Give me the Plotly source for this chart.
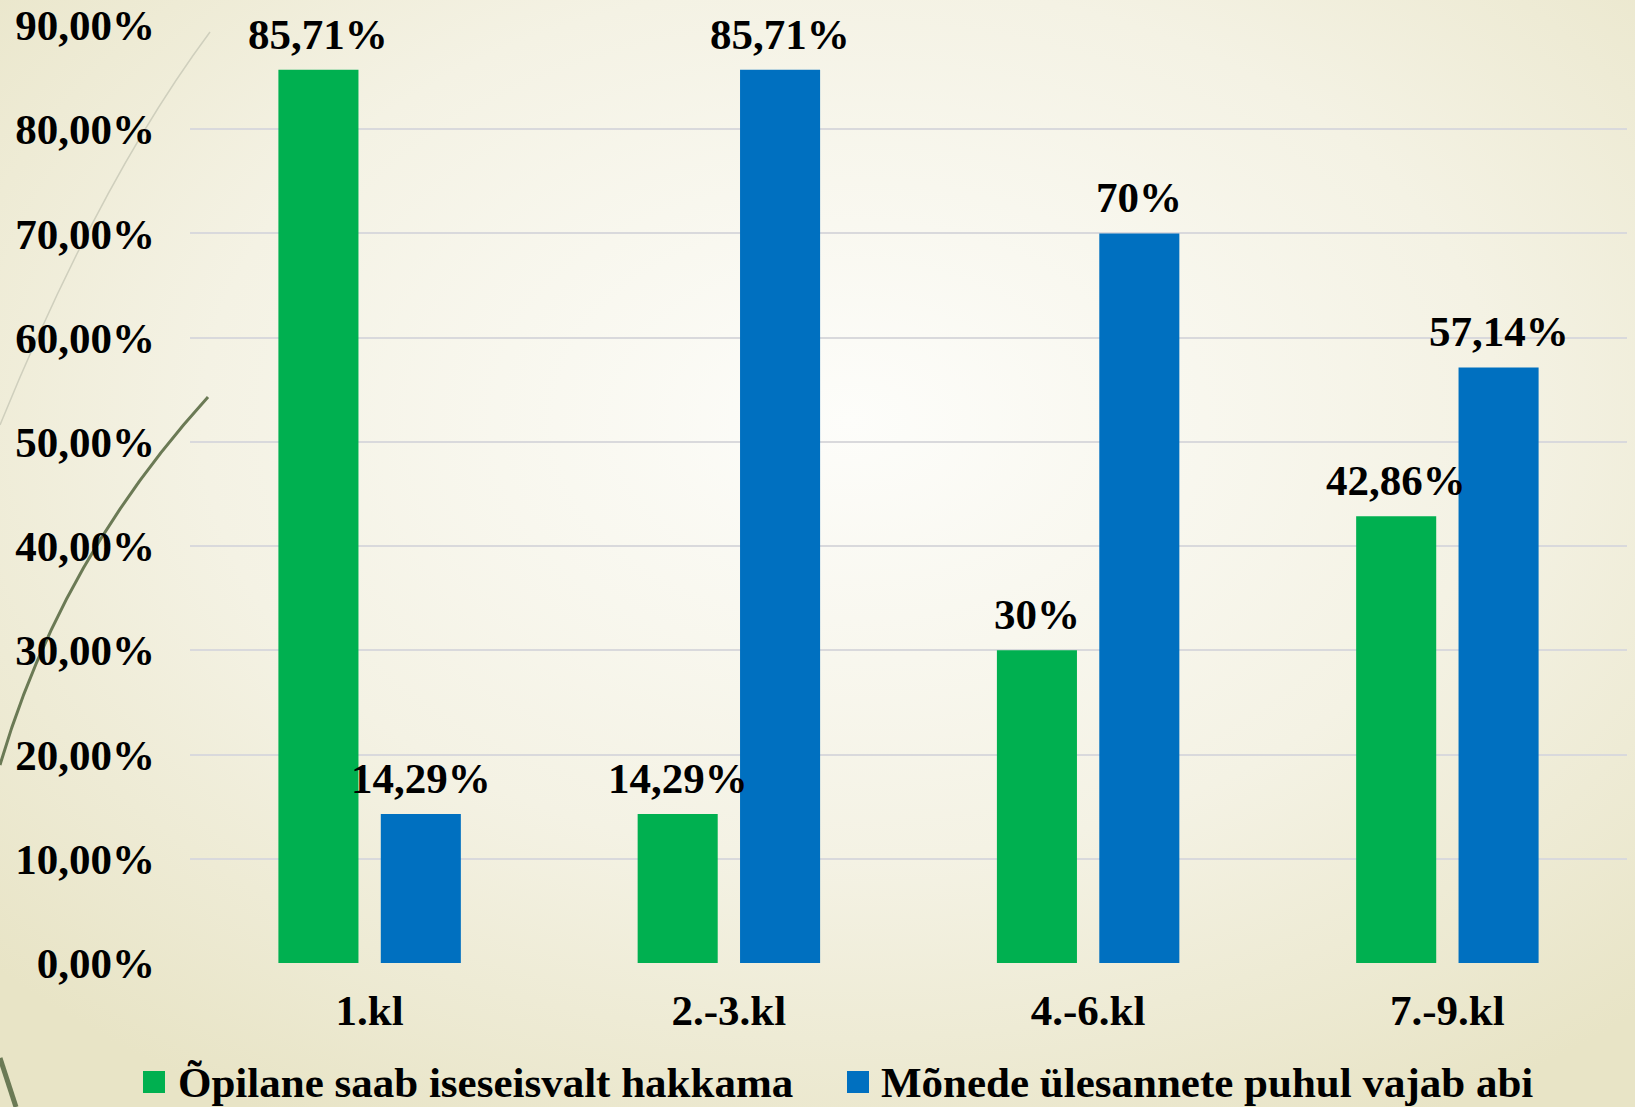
import base64
import plotly.graph_objects as go

# --- data ---
categories = ["1.kl", "2.-3.kl", "4.-6.kl", "7.-9.kl"]
series_names = ["Õpilane saab iseseisvalt hakkama", "Mõnede ülesannete puhul vajab abi"]
independent = [0.8571, 0.1429, 0.30, 0.4286]
needs_help = [0.1429, 0.8571, 0.70, 0.5714]
y_ticks = [0.0, 0.1, 0.2, 0.3, 0.4, 0.5, 0.6, 0.7, 0.8, 0.9]

GREEN = "#00B050"
BLUE = "#0070C0"
FONT = "Liberation Serif"
FS = 43

W, H = 1635, 1107
ML, MR, MT, MB = 190, 8, 25, 144
PW, PH = W - ML - MR, H - MT - MB

BARGAP = 0.43
BARGROUPGAP = 0.218


def pct_label(v):
    p = round(v * 100, 2)
    if abs(p - round(p)) < 1e-9:
        return f"{int(round(p))}%"
    return f"{p:.2f}".replace(".", ",") + "%"


# background: soft radial gradient plus the decorative curves on the left
bg_svg = f"""<svg xmlns='http://www.w3.org/2000/svg' width='{W}' height='{H}' viewBox='0 0 {W} {H}'>
<defs><radialGradient id='g' cx='0.52' cy='0.38' r='0.72'>
<stop offset='0' stop-color='#fdfdfa'/>
<stop offset='0.55' stop-color='#f4f2e4'/>
<stop offset='1' stop-color='#e8e4c6'/>
</radialGradient></defs>
<rect width='{W}' height='{H}' fill='url(#g)'/>
<path d='M 210 32 Q 100 180 0 425' stroke='#cfcfbd' stroke-width='1.5' fill='none'/>
<path d='M 208 397 Q 60 560 0 765' stroke='#6b7a55' stroke-width='3' fill='none'/>
<path d='M 0 1058 L 16 1107' stroke='#6b7a55' stroke-width='5' fill='none'/>
</svg>"""
bg_uri = "data:image/svg+xml;base64," + base64.b64encode(bg_svg.encode("utf-8")).decode("ascii")

fig = go.Figure()
for name, vals, color in [(series_names[0], independent, GREEN), (series_names[1], needs_help, BLUE)]:
    fig.add_trace(go.Bar(
        x=categories, y=vals, name=name,
        marker=dict(color=color, line=dict(width=0)),
        showlegend=False,
    ))

# data labels above each bar
slot = (1 - BARGAP) / 2
for j, vals in enumerate([independent, needs_help]):
    off = (j - 0.5) * slot
    for i, v in enumerate(vals):
        fig.add_annotation(
            x=i + off, y=v, xref="x", yref="y",
            text=pct_label(v), showarrow=False,
            xanchor="center", yanchor="bottom", yshift=10,
            font=dict(family=FONT, size=FS, color="black", weight="bold"),
        )

# legend drawn by hand so the swatches can be large
legend_y = -(1082 - (MT + PH)) / PH
sw = 22
legend_items = [(series_names[0], GREEN, 143, 176), (series_names[1], BLUE, 847, 879)]
for name, color, sx, tx in legend_items:
    x0 = (sx - ML) / PW
    x1 = (sx + sw - ML) / PW
    fig.add_shape(type="rect", xref="paper", yref="paper",
                  x0=x0, x1=x1, y0=legend_y - (sw / 2) / PH, y1=legend_y + (sw / 2) / PH,
                  fillcolor=color, line=dict(width=0))
    fig.add_annotation(
        x=(tx - ML) / PW, y=legend_y, xref="paper", yref="paper",
        text=name, showarrow=False, xanchor="left", yanchor="middle",
        font=dict(family=FONT, size=FS, color="black", weight="bold"),
    )

fig.add_layout_image(dict(
    source=bg_uri, xref="paper", yref="paper",
    x=-ML / PW, y=1 + MT / PH, sizex=W / PW, sizey=H / PH,
    xanchor="left", yanchor="top", sizing="stretch", layer="below",
))

fig.update_layout(
    width=W, height=H,
    margin=dict(l=ML, r=MR, t=MT, b=MB),
    barmode="group", bargap=BARGAP, bargroupgap=BARGROUPGAP,
    separators=", ",
    paper_bgcolor="#f2efdd", plot_bgcolor="rgba(0,0,0,0)",
    font=dict(family=FONT, size=FS, color="black", weight="bold"),
    showlegend=False,
)
fig.update_xaxes(
    showgrid=False, showline=False, ticks="", ticklabelstandoff=18,
    automargin=False,
    tickfont=dict(family=FONT, size=FS, color="black", weight="bold"),
)
fig.update_yaxes(
    range=[0, 0.9], tickvals=y_ticks, tickformat=".2%",
    showgrid=True, gridcolor="#d9d9dc", gridwidth=2,
    zeroline=False, showline=False, ticks="", ticklabelstandoff=34,
    automargin=False,
    tickfont=dict(family=FONT, size=FS, color="black", weight="bold"),
)

fig.write_html("out.html", config={"displayModeBar": False},
               post_script="document.body.style.margin='0';")
